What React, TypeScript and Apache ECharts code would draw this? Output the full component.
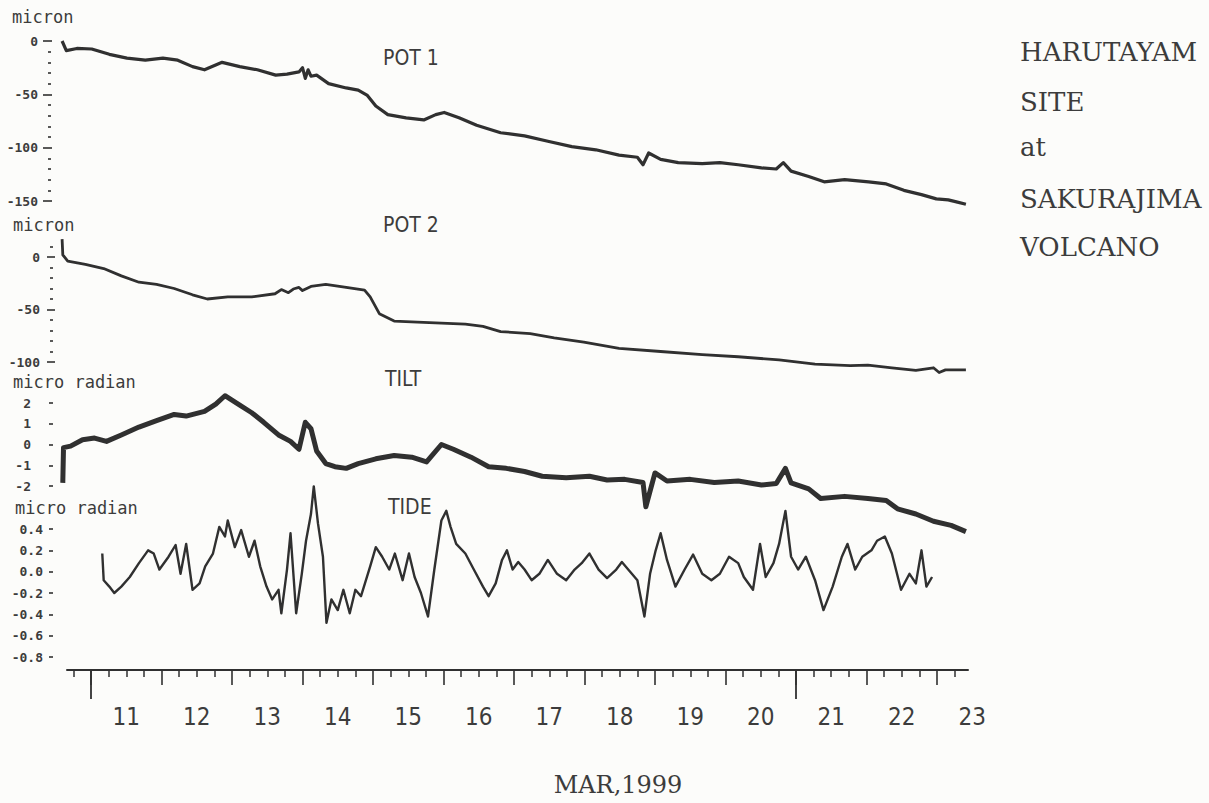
import React, { useEffect, useRef } from "react";
import * as echarts from "echarts";

// ---------- data (x = day of March 1999, fractional; y = reading) ----------
const pot1: number[][] = [
  [10.59, 0], [10.65, -9], [10.8, -7], [11.01, -7.5], [11.26, -12.5], [11.51, -16], [11.77, -18],
  [12.02, -16], [12.23, -18], [12.44, -24], [12.61, -27], [12.86, -20], [13.11, -24], [13.36, -27],
  [13.62, -32], [13.78, -31], [13.95, -29], [14.0, -25], [14.04, -35], [14.08, -27], [14.12, -33],
  [14.2, -32], [14.37, -40], [14.62, -44], [14.79, -46], [14.92, -51], [15.04, -61], [15.21, -69],
  [15.47, -72], [15.72, -74], [15.89, -69], [16.01, -67], [16.22, -72], [16.47, -79], [16.81, -86],
  [17.15, -89], [17.48, -94], [17.82, -99], [18.16, -102], [18.49, -107], [18.75, -109], [18.83, -116],
  [18.91, -105], [19.08, -111], [19.33, -114], [19.67, -115], [19.92, -114], [20.18, -116], [20.51, -119],
  [20.72, -120], [20.82, -114], [20.93, -122], [21.18, -127], [21.4, -132], [21.69, -130], [22.03, -132],
  [22.28, -134], [22.53, -140], [22.78, -144], [22.99, -148], [23.16, -149], [23.29, -151], [23.41, -153],
];

const pot2: number[][] = [
  [10.59, 17], [10.6, 2], [10.67, -4], [10.92, -7], [11.18, -11], [11.43, -18], [11.68, -24],
  [11.93, -26], [12.18, -30], [12.44, -36], [12.65, -40], [12.94, -38], [13.28, -38], [13.61, -35],
  [13.7, -31], [13.8, -34], [13.87, -30.5], [13.95, -29], [14.0, -32], [14.12, -28], [14.33, -26],
  [14.62, -29], [14.88, -31.5], [14.96, -38], [15.09, -54], [15.3, -61], [15.63, -62], [15.97, -63],
  [16.31, -64], [16.56, -66], [16.81, -71], [17.23, -73], [17.57, -77], [17.99, -81], [18.49, -87],
  [19.08, -90], [19.67, -93], [20.18, -95], [20.76, -98], [21.27, -102], [21.77, -103.5], [22.02, -103],
  [22.36, -105.5], [22.7, -108], [22.95, -105.5], [23.03, -110], [23.12, -107.5], [23.41, -107.5],
];

const tilt: number[][] = [
  [10.6, -1.85], [10.61, -0.15], [10.71, -0.08], [10.88, 0.23], [11.05, 0.31], [11.22, 0.15],
  [11.43, 0.46], [11.68, 0.84], [11.93, 1.15], [12.18, 1.45], [12.35, 1.37], [12.61, 1.6],
  [12.77, 1.95], [12.9, 2.35], [13.11, 1.9], [13.28, 1.53], [13.45, 1.07], [13.66, 0.46],
  [13.83, 0.15], [13.95, -0.23], [14.04, 1.07], [14.12, 0.76], [14.2, -0.31], [14.33, -0.92],
  [14.46, -1.07], [14.62, -1.15], [14.79, -0.92], [15.04, -0.69], [15.3, -0.53], [15.55, -0.61],
  [15.76, -0.84], [15.97, 0.0], [16.14, -0.23], [16.39, -0.61], [16.64, -1.07], [16.89, -1.15],
  [17.15, -1.3], [17.4, -1.53], [17.74, -1.6], [18.07, -1.53], [18.32, -1.71], [18.57, -1.68],
  [18.83, -1.83], [18.87, -3.0], [19.0, -1.37], [19.17, -1.76], [19.5, -1.68], [19.84, -1.83],
  [20.18, -1.76], [20.51, -1.95], [20.72, -1.88], [20.85, -1.15], [20.93, -1.85], [21.18, -2.14],
  [21.35, -2.6], [21.69, -2.5], [22.02, -2.6], [22.28, -2.7], [22.44, -3.1], [22.7, -3.35],
  [22.95, -3.7], [23.2, -3.9], [23.41, -4.2],
];

const tide: number[][] = [
  [11.16, 0.17], [11.18, -0.08], [11.26, -0.14], [11.33, -0.2], [11.43, -0.14], [11.55, -0.05],
  [11.68, 0.08], [11.81, 0.2], [11.89, 0.17], [11.97, 0.02], [12.1, 0.14], [12.2, 0.25],
  [12.27, -0.02], [12.35, 0.26], [12.44, -0.17], [12.54, -0.11], [12.62, 0.05], [12.73, 0.17],
  [12.82, 0.42], [12.9, 0.33], [12.94, 0.48], [13.04, 0.23], [13.13, 0.39], [13.24, 0.14],
  [13.32, 0.29], [13.4, 0.05], [13.49, -0.14], [13.57, -0.26], [13.66, -0.17], [13.7, -0.39],
  [13.78, 0.02], [13.83, 0.36], [13.91, -0.39], [13.99, -0.02], [14.05, 0.29], [14.12, 0.54],
  [14.16, 0.8], [14.22, 0.45], [14.29, 0.14], [14.34, -0.48], [14.41, -0.26], [14.5, -0.36],
  [14.58, -0.17], [14.67, -0.39], [14.75, -0.17], [14.83, -0.23], [14.96, 0.05], [15.04, 0.23],
  [15.13, 0.14], [15.23, 0.02], [15.31, 0.17], [15.42, -0.08], [15.51, 0.17], [15.59, -0.05],
  [15.68, -0.2], [15.78, -0.42], [15.87, 0.02], [15.97, 0.48], [16.04, 0.57], [16.1, 0.42],
  [16.18, 0.26], [16.31, 0.17], [16.43, 0.02], [16.56, -0.14], [16.64, -0.23], [16.74, -0.11],
  [16.83, 0.11], [16.9, 0.2], [16.98, 0.02], [17.06, 0.09], [17.15, 0.02], [17.25, -0.08],
  [17.36, -0.02], [17.48, 0.11], [17.61, -0.02], [17.74, -0.08], [17.86, 0.02], [17.96, 0.08],
  [18.07, 0.17], [18.2, 0.02], [18.32, -0.06], [18.45, 0.02], [18.53, 0.09], [18.62, 0.02],
  [18.75, -0.08], [18.85, -0.42], [18.93, -0.02], [19.01, 0.2], [19.08, 0.36], [19.17, 0.11],
  [19.29, -0.14], [19.42, 0.02], [19.54, 0.16], [19.67, -0.02], [19.8, -0.08], [19.92, -0.02],
  [20.05, 0.14], [20.18, 0.08], [20.26, -0.05], [20.39, -0.17], [20.49, 0.26], [20.57, -0.05],
  [20.68, 0.08], [20.76, 0.26], [20.85, 0.57], [20.93, 0.14], [21.03, 0.02], [21.14, 0.14],
  [21.27, -0.08], [21.39, -0.36], [21.52, -0.14], [21.65, 0.14], [21.73, 0.26], [21.84, 0.02],
  [21.94, 0.14], [22.07, 0.2], [22.15, 0.29], [22.26, 0.33], [22.36, 0.17], [22.49, -0.17],
  [22.61, -0.02], [22.7, -0.11], [22.78, 0.2], [22.85, -0.14], [22.93, -0.05],
];

// ---------- tick labels ----------
const dayLabels = [11, 12, 13, 14, 15, 16, 17, 18, 19, 20, 21, 22, 23];
const longTickDays = [11, 21];
const pot1Labels = [-150, -100, -50, 0];
const pot1Minor = [-140, -130, -120, -110, -90, -80, -70, -60, -40, -30, -20, -10];
const pot2Labels = [-100, -50, 0];
const pot2Minor = [-90, -80, -70, -60, -40, -30, -20, -10, 10];
const tiltLabels = [-2, -1, 0, 1, 2];
const tideLabels = [-0.8, -0.6, -0.4, -0.2, 0, 0.2, 0.4];
const sideText = ["HARUTAYAM", "SITE", "at", "SAKURAJIMA", "VOLCANO"];

// ---------- layout ----------
const PX_DAY11 = 91;
const PX_PER_DAY = 70.5;
const dayAt = (px: number) => 11 + (px - PX_DAY11) / PX_PER_DAY;
const PLOT_LEFT = 61;
const PLOT_RIGHT = 968;
const AXIS_LEFT = 67;
const LABEL_MAX = 23.55;

const INK = "#303030";
const TXT = "#3c3c3c";
const MONO = "'DejaVu Sans Mono', 'Liberation Mono', monospace";
const NARROW = "'Liberation Sans Narrow', 'DejaVu Sans Condensed', 'Arial Narrow', sans-serif";
const SERIF = "'DejaVu Serif', 'Liberation Serif', serif";

function buildOption() {
  const xMin = dayAt(PLOT_LEFT);
  const xMax = dayAt(PLOT_RIGHT);
  const axMin = dayAt(AXIS_LEFT);
  const minorDays: number[] = [];
  for (const d of [10, ...dayLabels]) {
    for (const q of [0.25, 0.5, 0.75]) {
      const v = d + q;
      if (v >= axMin && v <= xMax) minorDays.push(v);
    }
  }

  const panels = [
    { top: 41, height: 160 },
    { top: 246.5, height: 115.5 },
    { top: 403, height: 83 },
    { top: 529, height: 128 },
  ];
  const grid: any[] = panels.map((p) => ({
    left: PLOT_LEFT, top: p.top, width: PLOT_RIGHT - PLOT_LEFT, height: p.height,
    containLabel: false, outerBoundsMode: "none",
  }));
  grid.push({ left: AXIS_LEFT, top: 669, width: PLOT_RIGHT - AXIS_LEFT, height: 1, containLabel: false, outerBoundsMode: "none" });
  grid.push({ left: AXIS_LEFT, top: 669, width: (LABEL_MAX - axMin) * PX_PER_DAY, height: 1, containLabel: false, outerBoundsMode: "none" });

  const xAxis: any[] = [0, 1, 2, 3].map((i) => ({
    gridIndex: i, type: "value", min: xMin, max: xMax, show: false,
  }));
  const bottomBase = {
    gridIndex: 4, type: "value", min: axMin, max: xMax, position: "bottom",
    splitLine: { show: false }, axisLabel: { show: false },
  };
  xAxis.push({
    ...bottomBase,
    axisLine: { show: true, onZero: false, lineStyle: { color: INK, width: 2 } },
    axisTick: { show: true, customValues: minorDays, length: 7, lineStyle: { color: INK, width: 1.5 } },
  });
  xAxis.push({
    ...bottomBase,
    axisLine: { show: false, onZero: false },
    axisTick: { show: true, customValues: dayLabels, length: 15, lineStyle: { color: INK, width: 1.6 } },
  });
  xAxis.push({
    ...bottomBase,
    axisLine: { show: false, onZero: false },
    axisTick: { show: true, customValues: longTickDays, length: 29, lineStyle: { color: INK, width: 1.8 } },
  });
  xAxis.push({
    gridIndex: 5, type: "value", min: axMin, max: LABEL_MAX, position: "bottom",
    splitLine: { show: false },
    axisLine: { show: false, onZero: false },
    axisTick: { show: false },
    axisLabel: {
      show: true, customValues: dayLabels.map((d) => d + 0.5), margin: 35,
      formatter: (v: number) => String(Math.floor(v)),
      color: TXT, fontSize: 24, fontFamily: NARROW,
    },
  });

  const yLab = (margin: number, fmt?: (v: number) => string, values?: number[]) => ({
    show: true, customValues: values, margin, color: TXT, fontSize: 13, fontWeight: "bold", fontFamily: MONO,
    formatter: fmt || ((v: number) => String(v)),
  });
  const yAxis: any[] = [
    {
      gridIndex: 0, type: "value", min: -150, max: 0, position: "left", offset: 9,
      axisLine: { show: false }, splitLine: { show: false },
      axisTick: { show: true, customValues: pot1Labels, length: 9, lineStyle: { color: INK, width: 1.6 } },
      axisLabel: yLab(14, undefined, pot1Labels),
    },
    {
      gridIndex: 0, type: "value", min: -150, max: 0, position: "left", offset: 10,
      axisLine: { show: false }, splitLine: { show: false }, axisLabel: { show: false },
      axisTick: { show: true, customValues: pot1Minor, length: 3, lineStyle: { color: INK, width: 1.6 } },
    },
    {
      gridIndex: 1, type: "value", min: -100, max: 10, position: "left", offset: 6,
      axisLine: { show: false }, splitLine: { show: false },
      axisTick: { show: true, customValues: pot2Labels, length: 8, lineStyle: { color: INK, width: 1.6 } },
      axisLabel: yLab(15, undefined, pot2Labels),
    },
    {
      gridIndex: 1, type: "value", min: -100, max: 10, position: "left", offset: 8,
      axisLine: { show: false }, splitLine: { show: false }, axisLabel: { show: false },
      axisTick: { show: true, customValues: pot2Minor, length: 3, lineStyle: { color: INK, width: 1.6 } },
    },
    {
      gridIndex: 2, type: "value", min: -2, max: 2, position: "left", offset: 8,
      axisLine: { show: false }, splitLine: { show: false },
      axisTick: { show: true, customValues: tiltLabels, length: 4, lineStyle: { color: INK, width: 1.6 } },
      axisLabel: yLab(22, undefined, tiltLabels),
    },
    {
      gridIndex: 3, type: "value", min: -0.8, max: 0.4, position: "left", offset: 8,
      axisLine: { show: false }, splitLine: { show: false },
      axisTick: { show: true, customValues: tideLabels, length: 4, lineStyle: { color: INK, width: 1.6 } },
      axisLabel: yLab(10, (v: number) => v.toFixed(1), tideLabels),
    },
    { gridIndex: 4, type: "value", min: 0, max: 1, show: false },
    { gridIndex: 5, type: "value", min: 0, max: 1, show: false },
  ];

  const line = (data: number[][], xi: number, yi: number, width: number) => ({
    type: "line", data, xAxisIndex: xi, yAxisIndex: yi, showSymbol: false, symbol: "none",
    clip: false, silent: true, lineStyle: { color: INK, width, join: "round" },
  });

  const txt = (text: string, x: number, y: number, font: string, align = "left") => ({
    type: "text", x, y, silent: true,
    style: {
      text, font, fill: TXT, align, textAlign: align, verticalAlign: "middle", textVerticalAlign: "middle",
    },
  });

  const sideY = [52, 101.5, 147, 199, 247];

  return {
    animation: false,
    backgroundColor: "#fcfcfa",
    grid, xAxis, yAxis,
    series: [
      line(pot1, 0, 0, 3.2),
      line(pot2, 1, 2, 2.8),
      line(tilt, 2, 4, 5),
      line(tide, 3, 5, 2.4),
    ],
    graphic: [
      txt("micron", 12, 17, `17px ${MONO}`),
      txt("micron", 13, 225, `17px ${MONO}`),
      txt("micro radian", 13, 382, `17px ${MONO}`),
      txt("micro radian", 15, 508, `17px ${MONO}`),
      txt("POT 1", 383, 57.5, `21px ${NARROW}`),
      txt("POT 2", 383, 225, `21px ${NARROW}`),
      txt("TILT", 385, 379, `21px ${NARROW}`),
      txt("TIDE", 388, 507, `21px ${NARROW}`),
      ...sideText.map((s, i) => txt(s, 1020, sideY[i], `26px ${SERIF}`)),
      txt("MAR,1999", 618, 785, `24px ${SERIF}`, "center"),
    ],
  };
}

export default function App() {
  const ref = useRef<HTMLDivElement>(null);
  useEffect(() => {
    if (!ref.current) return;
    const chart = echarts.init(ref.current, null, { renderer: "svg" });
    chart.setOption(buildOption() as any);
    return () => chart.dispose();
  }, []);
  return (
    <div
      ref={ref}
      style={{ position: "absolute", left: 0, top: 0, width: 1209, height: 803 }}
    />
  );
}
